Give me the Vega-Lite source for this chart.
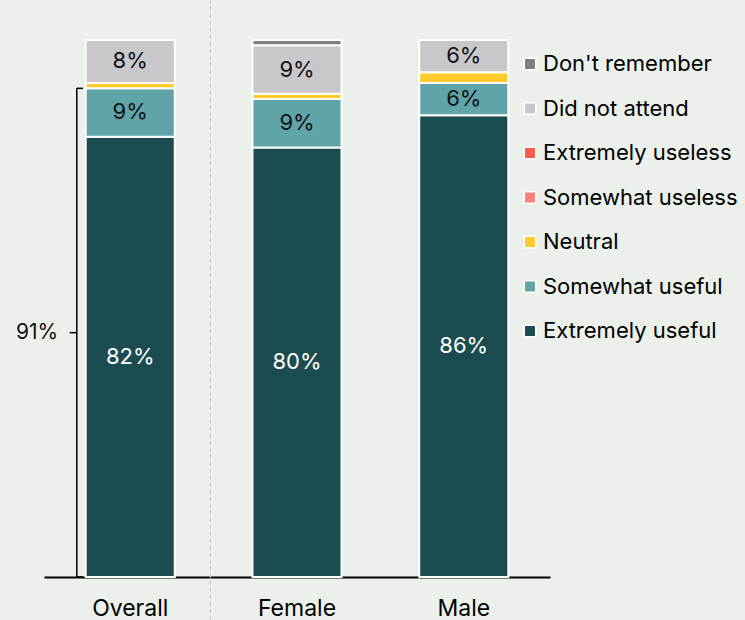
{
  "$schema": "https://vega.github.io/schema/vega-lite/v6.json",
  "width": 506,
  "height": 537,
  "autosize": {"type": "none"},
  "padding": {"left": 44, "top": 40, "right": 195, "bottom": 43},
  "background": "#ECF0EB",
  "config": {
    "view": {"stroke": null},
    "font": "Inter",
    "scale": {"bandPaddingInner": 0.466, "bandPaddingOuter": 0.25},
    "axisX": {"labelAngle": 0, "ticks": false, "domainColor": "black", "domainWidth": 2, "labelFontSize": 23, "labelColor": "black", "labelPadding": 20, "grid": false}
  },
  "datasets": {
    "shares": [
      {"group": "Overall", "cat": "Extremely useful", "k": 1, "v": 0.82},
      {"group": "Overall", "cat": "Somewhat useful", "k": 2, "v": 0.09},
      {"group": "Overall", "cat": "Neutral", "k": 3, "v": 0.01},
      {"group": "Overall", "cat": "Did not attend", "k": 6, "v": 0.08},
      {"group": "Female", "cat": "Extremely useful", "k": 1, "v": 0.80},
      {"group": "Female", "cat": "Somewhat useful", "k": 2, "v": 0.09},
      {"group": "Female", "cat": "Neutral", "k": 3, "v": 0.01},
      {"group": "Female", "cat": "Did not attend", "k": 6, "v": 0.09},
      {"group": "Female", "cat": "Don't remember", "k": 7, "v": 0.01},
      {"group": "Male", "cat": "Extremely useful", "k": 1, "v": 0.86},
      {"group": "Male", "cat": "Somewhat useful", "k": 2, "v": 0.06},
      {"group": "Male", "cat": "Neutral", "k": 3, "v": 0.02},
      {"group": "Male", "cat": "Did not attend", "k": 6, "v": 0.06}
    ],
    "bracket": [
      {"group": "Overall", "v": 0},
      {"group": "Overall", "v": 0.91}
    ],
    "divider": [{"group": "Overall"}]
  },
  "layer": [
    {
      "data": {"name": "divider"},
      "mark": {"type": "rule", "strokeDash": [4, 3], "color": "#C9CCC9", "strokeWidth": 1.2},
      "encoding": {
        "x": {"field": "group", "type": "nominal", "title": null, "bandPosition": 1.4, "scale": {"domain": ["Overall", "Female", "Male"]}},
        "y": {"datum": 1.075, "type": "quantitative", "scale": {"domain": [0, 1], "nice": false}, "axis": null},
        "y2": {"datum": -0.08}
      }
    },
    {
      "data": {"name": "shares"},
      "mark": {"type": "bar", "stroke": "white", "strokeWidth": 2},
      "encoding": {
        "x": {"field": "group", "type": "nominal", "title": null, "scale": {"domain": ["Overall", "Female", "Male"]}},
        "y": {"field": "v", "type": "quantitative", "stack": "zero", "scale": {"domain": [0, 1], "nice": false}, "axis": null},
        "color": {
          "field": "cat",
          "type": "nominal",
          "scale": {
            "domain": ["Don't remember", "Did not attend", "Extremely useless", "Somewhat useless", "Neutral", "Somewhat useful", "Extremely useful"],
            "range": ["#7F7F7F", "#C8C8CA", "#FA5D4A", "#F98177", "#FFCB2C", "#5FA4A9", "#1B4D50"]
          },
          "legend": {
            "title": null,
            "orient": "none",
            "legendX": 475,
            "legendY": 13,
            "padding": 0,
            "symbolType": "square",
            "symbolSize": 130,
            "symbolStrokeColor": "white",
            "symbolStrokeWidth": 1.5,
            "labelFontSize": 22,
            "labelColor": "black",
            "labelOffset": 2,
            "labelLimit": 300,
            "rowPadding": 22.5
          }
        },
        "order": {"field": "k", "type": "quantitative"}
      }
    },
    {
      "data": {"name": "shares"},
      "mark": {"type": "text", "fontSize": 22, "baseline": "middle"},
      "encoding": {
        "x": {"field": "group", "type": "nominal", "title": null, "scale": {"domain": ["Overall", "Female", "Male"]}},
        "y": {"field": "v", "type": "quantitative", "stack": "zero", "bandPosition": 0.5, "scale": {"domain": [0, 1], "nice": false}, "axis": null},
        "detail": {"field": "cat"},
        "order": {"field": "k", "type": "quantitative"},
        "text": {"field": "v", "type": "quantitative", "format": ".0%"},
        "opacity": {"condition": {"test": "datum.v < 0.05", "value": 0}, "value": 1},
        "color": {"condition": {"test": "datum.cat === 'Extremely useful'", "value": "white"}, "value": "#111111"}
      }
    },
    {
      "data": {"name": "bracket"},
      "mark": {"type": "rule", "color": "black", "strokeWidth": 1.5},
      "encoding": {
        "x": {"field": "group", "type": "nominal", "title": null, "bandPosition": -0.1, "scale": {"domain": ["Overall", "Female", "Male"]}},
        "y": {"aggregate": "min", "field": "v", "type": "quantitative", "scale": {"domain": [0, 1], "nice": false}, "axis": null},
        "y2": {"aggregate": "max", "field": "v"}
      }
    },
    {
      "data": {"name": "bracket"},
      "mark": {"type": "rule", "color": "black", "strokeWidth": 1.5},
      "encoding": {
        "x": {"field": "group", "type": "nominal", "title": null, "bandPosition": -0.1, "scale": {"domain": ["Overall", "Female", "Male"]}},
        "x2": {"field": "group", "bandPosition": -0.03},
        "y": {"field": "v", "type": "quantitative", "scale": {"domain": [0, 1], "nice": false}, "axis": null}
      }
    },
    {
      "data": {"name": "bracket"},
      "mark": {"type": "rule", "color": "black", "strokeWidth": 1.5},
      "encoding": {
        "x": {"field": "group", "type": "nominal", "title": null, "bandPosition": -0.18, "scale": {"domain": ["Overall", "Female", "Male"]}},
        "x2": {"field": "group", "bandPosition": -0.1},
        "y": {"aggregate": "mean", "field": "v", "type": "quantitative", "scale": {"domain": [0, 1], "nice": false}, "axis": null}
      }
    },
    {
      "data": {"name": "bracket"},
      "mark": {"type": "text", "fontSize": 21, "align": "right", "baseline": "middle", "color": "#111111"},
      "encoding": {
        "x": {"field": "group", "type": "nominal", "title": null, "bandPosition": -0.31, "scale": {"domain": ["Overall", "Female", "Male"]}},
        "y": {"aggregate": "mean", "field": "v", "type": "quantitative", "scale": {"domain": [0, 1], "nice": false}, "axis": null},
        "text": {"aggregate": "max", "field": "v", "type": "quantitative", "format": ".0%"}
      }
    }
  ]
}
